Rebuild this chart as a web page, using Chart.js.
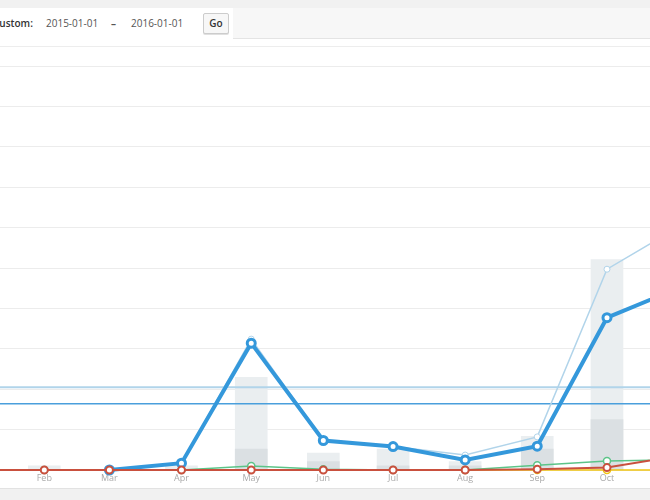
<!DOCTYPE html>
<html>
<head>
<meta charset="utf-8">
<script src="https://cdn.jsdelivr.net/npm/chart.js@4.4.1/dist/chart.umd.min.js"></script>
<style>
  html, body { margin:0; padding:0; }
  body { width:650px; height:500px; overflow:hidden; background:#f1f1f1; position:relative; font-family:"Open Sans", sans-serif; }
  #hdrRight { position:absolute; left:233px; top:8px; width:417px; height:30px; background:#f7f7f7; border-bottom:1px solid #e4e4e4; }
  #hdrLeft { position:absolute; left:0; top:8px; width:233px; height:31px; background:#fff; }
  #main { position:absolute; left:0; top:39px; width:650px; height:449px; background:#fff; border-bottom:1px solid #e2e2e2; }
  #sep { position:absolute; left:0; top:46px; width:650px; height:1px; background:#ededed; }
  .t { position:absolute; top:16px; font-size:10px; line-height:14px; color:#555; white-space:nowrap; }
  #lbl { left:-7px; color:#333; font-weight:600; }
  #go { position:absolute; left:203px; top:13px; width:24px; height:19px; border:1px solid #ccc; border-radius:2px; background:#f7f7f7; font-size:10px; font-weight:600; color:#333; text-align:center; line-height:19px; box-shadow:0 1px 0 #e0e0e0; }
  #c { position:absolute; left:0; top:40px; }
</style>
</head>
<body>
<div id="hdrRight"></div>
<div id="hdrLeft"></div>
<div id="main"></div>
<div id="sep"></div>
<div class="t" id="lbl">Custom:</div>
<div class="t" style="left:46px">2015-01-01</div>
<div class="t" style="left:111px;font-weight:700">–</div>
<div class="t" style="left:131px">2016-01-01</div>
<div id="go">Go</div>
<canvas id="c" width="650" height="448"></canvas>
<script>
// Month starts (day of year, 2015) and labels
const monthLabels = ['Jan','Feb','Mar','Apr','May','Jun','Jul','Aug','Sep','Oct','Nov','Dec'];
const monthDays   = [0, 31, 59, 90, 120, 151, 181, 212, 243, 273, 304, 334];

// Amount series (line axis)
const grossSales = [null, null, 0, 17, 324, 73, 58, 37, 82, 497, 602, null];
const netSales   = [null, null, 0, 17, 314, 73, 58, 25, 59, 377, 451, null];
const shipping   = [0, 0, 0, 0, 10, 2, 0, 0, 12, 22, 26, null];
const refunds    = [0, 0, 0, 0, 0, 0, 0, 0, 2, 6, 35, null];
const coupons    = [null, null, null, null, null, null, null, 0, 0, 0, 0, null];
const avgGrossSales = 205;
const avgNetSales   = 164;

// Count series (bars)
const itemCounts  = [0, 1, 0, 1, 22, 4, 5, 2, 8, 50, null, null];
const orderCounts = [0, 0, 0, 0, 5, 2, 1, 1, 5, 12, null, null];

const pts = arr => arr.map((v, i) => ({ x: monthDays[i], y: v }));
const flat = v => [{ x: 0, y: v }, { x: 365, y: v }];
const labelFor = {};
monthDays.forEach((d, i) => labelFor[d] = monthLabels[i]);

const X_MIN = 11.95, X_MAX = 291.5;

new Chart(document.getElementById('c'), {
  data: {
    datasets: [
      { type:'line', label:'Refunds', data: pts(refunds), order:0, clip:false, borderColor:'#c9503e', borderWidth:2,
        pointRadius:3.5, pointBorderWidth:2, pointBackgroundColor:'#fff', pointBorderColor:'#c9503e', tension:0 },
      { type:'line', label:'Net sales', data: pts(netSales), order:1, clip:false, borderColor:'#3498db', borderWidth:4,
        pointRadius:4, pointBorderWidth:3, pointBackgroundColor:'#fff', pointBorderColor:'#3498db', tension:0 },
      { type:'line', label:'Gross sales', data: pts(grossSales), order:2, clip:false, borderColor:'#b1d4ea', borderWidth:1.5,
        pointRadius:3, pointBorderWidth:1, pointBackgroundColor:'#fff', pointBorderColor:'#b1d4ea', tension:0 },
      { type:'line', label:'Shipping', data: pts(shipping), order:3, clip:false, borderColor:'#5cc488', borderWidth:1.5,
        pointRadius:3.5, pointBorderWidth:1.5, pointBackgroundColor:'#fff', pointBorderColor:'#5cc488', tension:0 },
      { type:'line', label:'Coupons', data: pts(coupons), order:4, clip:false, borderColor:'#f1c40f', borderWidth:1.5,
        pointRadius:3.5, pointBorderWidth:1.5, pointBackgroundColor:'#fff', pointBorderColor:'#f1c40f', tension:0 },
      { type:'line', label:'Average net sales', data: flat(avgNetSales), order:5, borderColor:'#4a9fdc', borderWidth:1.5, pointRadius:0 },
      { type:'line', label:'Average gross sales', data: flat(avgGrossSales), order:6, borderColor:'#b1d4ea', borderWidth:2, pointRadius:0 },
      { type:'bar', label:'Orders', data: pts(orderCounts), order:7, yAxisID:'yc', backgroundColor:'#dbe0e3', barThickness:32, grouped:false },
      { type:'bar', label:'Items', data: pts(itemCounts), order:8, yAxisID:'yc', backgroundColor:'#eaeef0', barThickness:32, grouped:false }
    ]
  },
  options: {
    responsive:false, animation:false, devicePixelRatio:1,
    layout: { autoPadding:false, padding: { top:26, left:0, right:0, bottom:0 } },
    plugins: { legend:{ display:false }, tooltip:{ enabled:false } },
    scales: {
      x: {
        type:'linear', min:X_MIN, max:X_MAX, offset:false,
        grid:{ display:false, drawTicks:false, offset:false }, border:{ display:false },
        afterBuildTicks: s => { s.ticks = monthDays.filter(d => d >= X_MIN && d <= X_MAX).map(d => ({ value:d })); },
        afterFit: s => { s.height = 18; },
        ticks:{ autoSkip:false, maxRotation:0, padding:3, color:'#aaaaaa', font:{ family:'Open Sans', size:9 },
          callback: v => labelFor[v] || '' }
      },
      y: {
        type:'linear', min:0, max:1000, position:'left',
        ticks:{ display:false, stepSize:100 },
        grid:{ color:'#ececec', lineWidth:1, drawTicks:false }, border:{ display:false },
        afterFit: s => { s.width = 0; }
      },
      yc: { type:'linear', min:0, max:96, display:false }
    }
  }
});
</script>
</body>
</html>
